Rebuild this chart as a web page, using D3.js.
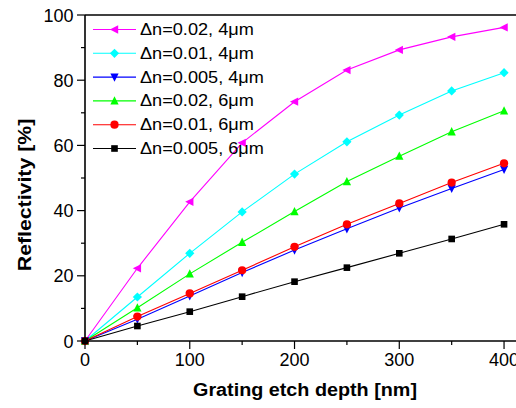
<!DOCTYPE html>
<html><head><meta charset="utf-8">
<script src="https://cdn.jsdelivr.net/npm/d3@7"></script>
<style>body{margin:0;background:#fff}svg{display:block}text{font-family:"Liberation Sans",Arial,sans-serif}</style>
</head><body><svg id="c" width="516" height="408"></svg>
<script>
const depths = [0, 50, 100, 150, 200, 250, 300, 350, 400];
const seriesNames = ["Δn=0.02, 4μm","Δn=0.01, 4μm","Δn=0.005, 4μm","Δn=0.02, 6μm","Δn=0.01, 6μm","Δn=0.005, 6μm"];
const s1 = [0, 22.3, 42.7, 60.8, 73.4, 83.1, 89.3, 93.3, 96.2];
const s2 = [0, 13.5, 26.9, 39.6, 51.2, 61.1, 69.3, 76.7, 82.3];
const s3 = [0, 6.7, 13.8, 21.0, 27.9, 34.4, 40.8, 46.8, 52.6];
const s4 = [0, 10.2, 20.6, 30.3, 39.7, 48.9, 56.7, 64.2, 70.6];
const s5 = [0, 7.5, 14.6, 21.7, 28.9, 35.8, 42.2, 48.6, 54.5];
const s6 = [0, 4.6, 9.0, 13.6, 18.2, 22.5, 26.9, 31.3, 35.8];
const seriesValues = [s1, s2, s3, s4, s5, s6];
const colors = ["#ff00ff","#00ffff","#0000ff","#00ff00","#ff0000","#000000"];
const shapes = ["triLeft","diamond","triDown","triUp","circle","square"];
const xTicks = [0, 100, 200, 300, 400];
const xMinor = [50, 150, 250, 350];
const yTicks = [0, 20, 40, 60, 80, 100];
const yMinor = [10, 30, 50, 70, 90];

const svg = d3.select("#c");
const x = d3.scaleLinear().domain([0, 420]).range([85, 525]);
const y = d3.scaleLinear().domain([0, 100]).range([341, 15]);

function markerPath(type, s) {
  switch (type) {
    case "triLeft": return `M${-s},0L${s*0.8},${-s*0.9}L${s*0.8},${s*0.9}Z`;
    case "triDown": return `M0,${s}L${-s*0.9},${-s*0.8}L${s*0.9},${-s*0.8}Z`;
    case "triUp": return `M0,${-s}L${-s*0.9},${s*0.8}L${s*0.9},${s*0.8}Z`;
    case "diamond": return `M0,${-s}L${s},0L0,${s}L${-s},0Z`;
    case "square": return `M${-s*0.72},${-s*0.72}h${s*1.44}v${s*1.44}h${-s*1.44}Z`;
    case "circle": return d3.symbol(d3.symbolCircle, Math.PI*s*s*0.8)();
  }
}

// series
const line = d3.line().x((d,i)=>x(depths[i])).y(d=>y(d));
seriesValues.forEach((vals, k) => {
  svg.append("path").attr("d", line(vals)).attr("fill","none")
    .attr("stroke", colors[k]).attr("stroke-width", 1.1);
});
seriesValues.forEach((vals, k) => {
  svg.selectAll(null).data(vals).enter().append("path")
    .attr("transform",(d,i)=>`translate(${x(depths[i])},${y(d)})`)
    .attr("d", markerPath(shapes[k], 4.6)).attr("fill", colors[k]);
});

// axes
const ax = svg.append("g").attr("stroke","#000").attr("stroke-width",1.6);
ax.append("line").attr("x1",x(0)).attr("x2",516).attr("y1",y(0)).attr("y2",y(0));
ax.append("line").attr("x1",x(0)).attr("x2",516).attr("y1",y(100)).attr("y2",y(100));
ax.append("line").attr("x1",x(0)).attr("x2",x(0)).attr("y1",y(0)).attr("y2",y(100));
const tk = svg.append("g").attr("stroke","#000").attr("stroke-width",1.2);
xTicks.forEach(t=>tk.append("line").attr("x1",x(t)).attr("x2",x(t)).attr("y1",y(0)).attr("y2",y(0)+8));
xMinor.forEach(t=>tk.append("line").attr("x1",x(t)).attr("x2",x(t)).attr("y1",y(0)).attr("y2",y(0)+4));
yTicks.forEach(t=>tk.append("line").attr("x1",x(0)).attr("x2",x(0)-8).attr("y1",y(t)).attr("y2",y(t)));
yMinor.forEach(t=>tk.append("line").attr("x1",x(0)).attr("x2",x(0)-4).attr("y1",y(t)).attr("y2",y(t)));

svg.selectAll(null).data(xTicks).enter().append("text")
  .attr("x",d=>x(d)).attr("y",y(0)+25).attr("text-anchor","middle")
  .attr("font-size",18).text(d=>d);
svg.selectAll(null).data(yTicks).enter().append("text")
  .attr("x",x(0)-11.5).attr("y",d=>y(d)+6.5).attr("text-anchor","end")
  .attr("font-size",18).text(d=>d);

svg.append("text").attr("transform","translate(305,396) scale(1.13,1)").attr("text-anchor","middle")
  .attr("font-size",17.5).attr("font-weight","bold").text("Grating etch depth [nm]");
svg.append("text").attr("transform","translate(31,195) rotate(-90) scale(1.12,1)").attr("text-anchor","middle")
  .attr("font-size",19).attr("font-weight","bold").text("Reflectivity [%]");

// legend
const lg = svg.append("g");
seriesNames.forEach((n,k)=>{
  const ly = 29.5 + k*23.8;
  lg.append("line").attr("x1",93).attr("x2",136).attr("y1",ly).attr("y2",ly)
    .attr("stroke",colors[k]).attr("stroke-width",1.1);
  lg.append("path").attr("transform",`translate(114.5,${ly})`).attr("d",markerPath(shapes[k],4.6)).attr("fill",colors[k]);
  lg.append("text").attr("transform",`translate(140,${ly+5.5}) scale(1.1,1)`).attr("font-size",16.5).text(n);
});
</script></body></html>
